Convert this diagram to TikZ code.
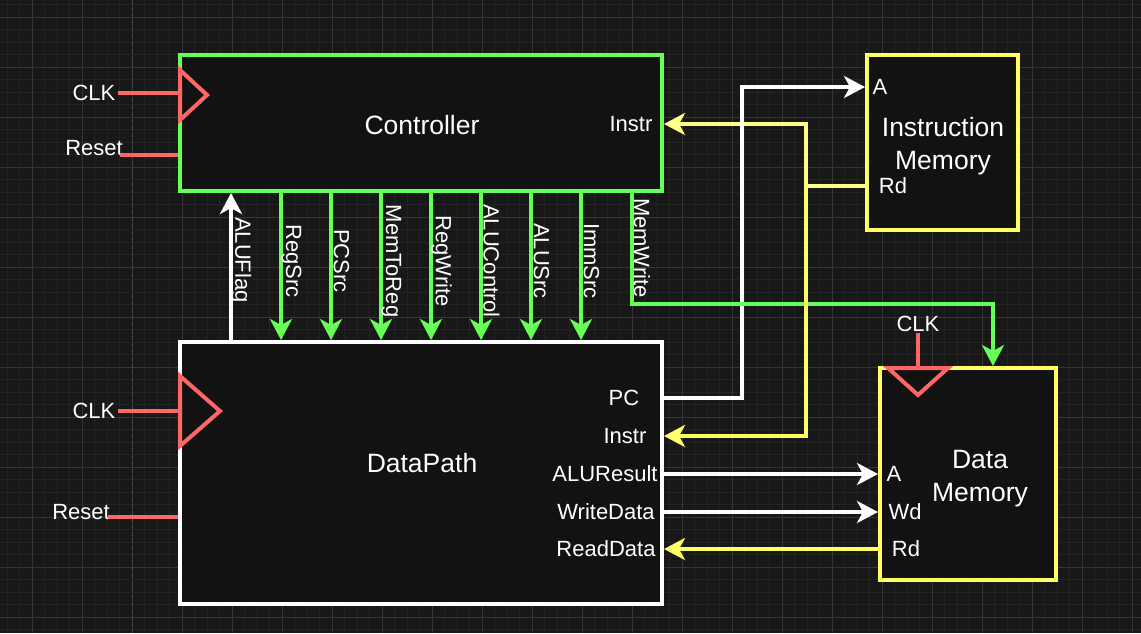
\documentclass[tikz,border=0pt]{standalone}
\usepackage{fontspec}
\setmainfont{Liberation Sans}
\usetikzlibrary{arrows.meta}
\definecolor{bg}{HTML}{181818}
\definecolor{boxfill}{HTML}{121212}
\definecolor{gridminor}{HTML}{232323}
\definecolor{gridmajor}{HTML}{363636}
\definecolor{griddash}{HTML}{4A4A4A}
\definecolor{gcol}{HTML}{66FF55}
\definecolor{ycol}{HTML}{FFFF66}
\definecolor{ycollight}{HTML}{FFFF88}
\definecolor{rcol}{HTML}{FF6666}
\begin{document}
\begin{tikzpicture}[x=1pt,y=-1pt,
  lbl/.style={text=white, font=\fontsize{22}{26}\selectfont, inner sep=0pt},
  vlbl/.style={lbl, rotate=-90},
  title/.style={text=white, font=\fontsize{26.5}{33}\selectfont, align=center, inner sep=0pt},
  unit/.style={draw, line width=4pt, fill=boxfill, inner sep=0pt},
  wire/.style={line width=4pt},
  tip/.style={-{Stealth[length=21pt,width=22pt,inset=6pt]}},
  minorline/.style={gridminor, line width=1pt},
  majorline/.style={gridmajor, line width=1pt}
]
% background and grid
\fill[bg] (0,0) rectangle (1141,633);
\useasboundingbox (0,0) rectangle (1141,633);
\foreach \i in {0,...,91} { \draw[minorline] ({7+12.5*\i},0) -- ({7+12.5*\i},633); }
\foreach \i in {0,...,50} { \draw[minorline] (0,{4.5+12.5*\i}) -- (1141,{4.5+12.5*\i}); }
\foreach \i in {0,...,22} { \draw[majorline] ({32+50*\i},0) -- ({32+50*\i},633); }
\foreach \i in {0,...,12} { \draw[majorline] (0,{17+50*\i}) -- (1141,{17+50*\i}); }
\draw[griddash, line width=1pt, dash pattern=on 4pt off 3pt] (132,0) -- (132,633);

% blocks
\node[unit, draw=gcol, minimum width=482pt, minimum height=136pt] (ctrl) at (421,123) {};
\node[title] (ctrlT) at (422,125) {Controller};
\node[unit, draw=white, minimum width=482pt, minimum height=262pt] (dp) at (421,473) {};
\node[title] (dpT) at (422,463) {DataPath};
\node[unit, draw=ycol, minimum width=151pt, minimum height=175pt] (im) at (942.5,142.5) {};
\node[title] (imT) at (943,146) {Instruction\\Memory};
\node[unit, draw=ycol, minimum width=176pt, minimum height=212pt] (dm) at (968,474) {};
\node[title] (dmT) at (980,479) {Data\\Memory};

% port labels
\node[lbl] (ctrlInstr) at (631,124) {Instr};
\node[lbl] (imA) at (880,87) {A};
\node[lbl] (imRd) at (893,186) {Rd};
\node[lbl] (dmA) at (894,474) {A};
\node[lbl] (dmWd) at (905,512) {Wd};
\node[lbl] (dmRd) at (906,549) {Rd};
\node[lbl] (dpPC) at (624,398) {PC};
\node[lbl] (dpInstr) at (625,436) {Instr};
\node[lbl] (dpALU) at (605,474) {ALUResult};
\node[lbl] (dpWD) at (606,512) {WriteData};
\node[lbl] (dpRD) at (606,549) {ReadData};

% clocks and resets
\node[lbl] (clkC) at (94,93) {CLK};
\node[lbl] (rstC) at (94,148) {Reset};
\node[lbl] (clkD) at (94,411) {CLK};
\node[lbl] (rstD) at (81,512) {Reset};
\node[lbl] (clkM) at (918,324) {CLK};
\coordinate (rstCs) at (120,155);
\coordinate (rstDs) at (108,517);
\draw[wire, rcol, shorten <=2pt] (clkC.east) -- (ctrl.west |- clkC.east);
\draw[wire, rcol] (rstCs) -- (ctrl.west |- rstCs);
\draw[wire, rcol, shorten <=2pt] (clkD.east) -- (dp.west |- clkD.east);
\draw[wire, rcol] (rstDs) -- (dp.west |- rstDs);
\draw[wire, rcol, shorten <=1pt] (clkM.south) -- (dm.north -| clkM.south);
\draw[wire, rcol, line join=miter] (180,70) -- (207,95) -- (180,120) -- cycle;
\draw[wire, rcol, line join=miter] (180,376) -- (220,411) -- (180,446) -- cycle;
\draw[wire, rcol, line join=miter] (888,368) -- (918,395) -- (948,368) -- cycle;

% control signals
\coordinate (af) at (231,0);
\draw[wire, white, tip] (dp.north -| af) -- (ctrl.south -| af);
\node[vlbl] (afL) at (241,260) {ALUFlag};
\foreach \n/\x/\t in {s1/281/RegSrc, s2/331/PCSrc, s3/381/MemToReg, s4/431/RegWrite, s5/481/ALUControl, s6/531/ALUSrc, s7/581/ImmSrc} {
  \coordinate (\n) at (\x,0);
  \draw[wire, gcol, tip] (ctrl.south -| \n) -- (dp.north -| \n);
  \node[vlbl] (\n L) at (\x+10.5,261) {\t};
}

% instruction path (yellow, behind)
\coordinate (yj) at (806,186);
\draw[wire, ycollight, tip] (im.west |- imRd) -- (yj) |- (ctrl.east |- ctrlInstr);

% PC
\coordinate (pcv) at (742,87);
\draw[wire, white, tip] (dp.east |- dpPC) -| (pcv) -- (im.west |- imA);

% MemWrite
\coordinate (mw) at (632,0);
\coordinate (mwb) at (632,304);
\coordinate (dmin) at (993,0);
\draw[wire, gcol, tip] (ctrl.south -| mw) -- (mwb) -| (dm.north -| dmin);
\node[vlbl] (mwL) at (642,248) {MemWrite};

% instruction to datapath
\draw[wire, ycol, tip] (yj) |- (dp.east |- dpInstr);

% data memory links
\draw[wire, white, tip] (dp.east |- dpALU) -- (dm.west |- dpALU);
\draw[wire, white, tip] (dp.east |- dpWD) -- (dm.west |- dpWD);
\draw[wire, ycol, tip] (dm.west |- dpRD) -- (dp.east |- dpRD);
\end{tikzpicture}
\end{document}
